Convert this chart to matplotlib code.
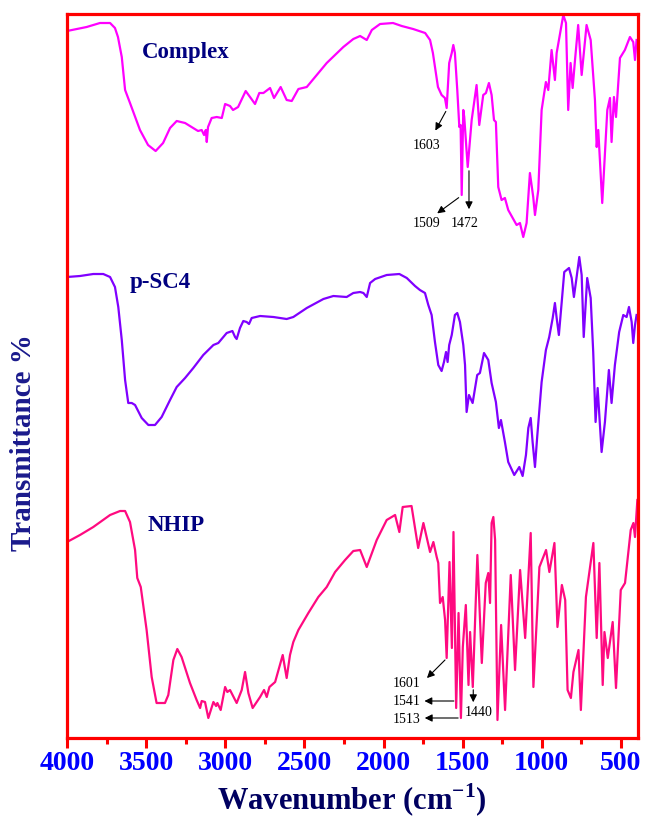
import matplotlib.pyplot as plt
from matplotlib.ticker import MultipleLocator

plt.rcParams['mathtext.fontset'] = 'custom'
plt.rcParams['mathtext.rm'] = 'Liberation Serif'
plt.rcParams['mathtext.bf'] = 'Liberation Serif:bold'

# FTIR spectra (wavenumber in cm-1, transmittance in arbitrary stacked units)
complex_wn = [4000, 3876, 3792, 3728, 3697, 3678, 3654, 3633, 3602, 3539, 3488, 3440, 3393, 3349, 3307,
              3254, 3172, 3149, 3134, 3123, 3117, 3109, 3086, 3054, 3022, 3001, 2970, 2951, 2919, 2871,
              2839, 2812, 2785, 2759, 2717, 2692, 2650, 2612, 2580, 2538, 2485, 2422, 2359, 2254, 2191,
              2148, 2106, 2074, 2022, 1940, 1885, 1813, 1737, 1706, 1688, 1656, 1633, 1612, 1601, 1585,
              1569, 1559, 1549, 1534, 1521, 1513, 1506, 1496, 1490, 1468, 1443, 1412, 1395, 1370, 1353,
              1334, 1317, 1302, 1290, 1275, 1254, 1233, 1212, 1159, 1138, 1117, 1096, 1075, 1054, 1043,
              1022, 1001, 974, 959, 938, 917, 906, 864, 847, 833, 818, 805, 790, 770, 748, 717, 691, 664,
              653, 643, 618, 586, 569, 559, 544, 531, 506, 475, 443, 422, 411, 401]
complex_t = [707, 711, 715, 715, 710, 701, 681, 648, 635, 608, 593, 587, 595, 610, 617,
             615, 607, 608, 603, 608, 596, 611, 620, 621, 620, 634, 632, 628, 631, 647,
             640, 634, 645, 645, 650, 640, 651, 638, 637, 649, 651, 663, 675, 691, 699,
             702, 698, 708, 714, 715, 712, 709, 705, 698, 685, 651, 643, 640, 630, 675,
             685, 693, 685, 648, 611, 613, 543, 628, 621, 571, 618, 653, 613, 643, 645,
             655, 643, 618, 616, 551, 538, 540, 528, 513, 515, 501, 515, 565, 541, 523,
             548, 628, 656, 648, 688, 658, 685, 723, 715, 628, 675, 650, 678, 713, 663, 713, 698, 638,
             591, 608, 535, 628, 640, 596, 641, 621, 680, 688, 701, 696, 678, 698]

psc4_wn = [4000, 3918, 3834, 3771, 3728, 3697, 3676, 3654, 3633, 3613, 3591, 3570, 3528, 3486, 3444,
           3402, 3349, 3307, 3254, 3202, 3139, 3075, 3044, 2991, 2955, 2938, 2928, 2907, 2886, 2865,
           2850, 2833, 2780, 2696, 2612, 2570, 2485, 2380, 2317, 2233, 2191, 2148, 2127, 2106, 2085,
           2053, 1980, 1900, 1853, 1801, 1770, 1738, 1717, 1696, 1675, 1654, 1633, 1618, 1605, 1595,
           1585, 1569, 1549, 1534, 1517, 1496, 1485, 1475, 1460, 1437, 1408, 1391, 1365, 1338, 1317,
           1290, 1271, 1258, 1233, 1212, 1174, 1142, 1121, 1100, 1085, 1070, 1058, 1043, 1029, 1001,
           974, 953, 931, 917, 906, 892, 874, 858, 828, 811, 797, 784, 763, 748, 735, 713, 691, 675,
           660, 647, 622, 601, 576, 559, 538, 511, 485, 464, 449, 432, 422, 411, 401]
psc4_t = [461, 462, 464, 464, 461, 451, 431, 398, 358, 335, 335, 333, 320, 313, 313,
          321, 338, 351, 360, 370, 383, 393, 395, 405, 407, 401, 399, 410, 417, 416,
          414, 420, 422, 421, 419, 421, 430, 439, 442, 441, 445, 446, 445, 441, 455,
          459, 463, 464, 460, 452, 448, 445, 433, 423, 396, 373, 367, 376, 386, 376,
          393, 403, 423, 425, 416, 393, 373, 326, 343, 335, 363, 365, 385, 378, 355,
          336, 310, 318, 296, 276, 263, 271, 262, 283, 310, 320, 296, 271, 301, 356,
          388, 401, 420, 435, 420, 403, 436, 466, 470, 460, 441, 456, 481, 463, 401, 460, 440, 386,
          316, 350, 286, 316, 368, 335, 373, 406, 423, 421, 431, 416, 395, 413, 423]

nhip_wn = [4000, 3918, 3834, 3728, 3665, 3633, 3602, 3570, 3556, 3534, 3497, 3465, 3434, 3381, 3360,
           3328, 3303, 3276, 3223, 3181, 3159, 3149, 3128, 3107, 3075, 3058, 3050, 3029, 3001, 2987,
           2970, 2928, 2896, 2875, 2854, 2827, 2780, 2755, 2738, 2721, 2685, 2637, 2612, 2591, 2570,
           2538, 2475, 2412, 2359, 2306, 2243, 2191, 2148, 2106, 2043, 1980, 1927, 1900, 1879, 1823,
           1781, 1748, 1706, 1685, 1664, 1654, 1643, 1626, 1611, 1601, 1583, 1568, 1558, 1541, 1526,
           1511, 1499, 1480, 1463, 1453, 1436, 1407, 1379, 1354, 1338, 1327, 1317, 1306, 1295, 1280,
           1257, 1232, 1196, 1169, 1137, 1105, 1070, 1053, 1015, 973, 952, 920, 901, 873, 852, 837,
           816, 800, 768, 753, 721, 674, 653, 636, 615, 604, 583, 552, 531, 501, 474, 438, 421, 411, 396]
nhip_t = [196, 203, 211, 223, 227, 227, 216, 188, 160, 151, 108, 61, 35, 35, 43,
          78, 89, 81, 55, 38, 30, 37, 36, 20, 36, 32, 35, 28, 51, 46,
          48, 35, 48, 66, 45, 30, 41, 48, 41, 51, 56, 83, 60, 83, 96,
          108, 125, 141, 151, 166, 178, 187, 188, 171, 198, 218, 223, 206, 231, 232,
          190, 215, 186, 196, 181, 175, 135, 141, 118, 80, 176, 90, 206, 30, 125,
          20, 91, 133, 53, 106, 51, 183, 75, 155, 165, 135, 215, 221, 198, 18,
          113, 28, 163, 68, 168, 100, 205, 51, 171, 188, 166, 195, 111, 153, 138, 48,
          40, 66, 88, 28, 141, 195, 100, 175, 53, 106, 80, 116, 50, 148, 155, 208, 215, 201, 238]

names = ['Complex', 'p-SC4', 'NHIP']
colors = ['#FF00FF', '#8000FF', '#FF0A80']
name_pos = [(3248, 686), (3412, 456), (3311, 213)]

# peak labels: text, arrow tail, arrow head, label position
peaks = ['1603', '1509', '1472', '1601', '1541', '1513', '1440']
peak_from = [(1598, 629), (1511, 542), (1460, 570), (1599, 80), (1538, 37), (1511, 20), (1433, 51)]
peak_to = [(1681, 605), (1675, 523), (1460, 526), (1738, 58), (1759, 37), (1757, 20), (1433, 33)]
peak_txt = [(1726, 593), (1726, 515), (1485, 515), (1852, 55), (1852, 37), (1852, 19), (1397, 26)]

fig = plt.figure(figsize=(6.45, 8.19), dpi=100)
ax = fig.add_axes([0.1039, 0.0989, 0.885, 0.884])

ax.plot(complex_wn, complex_t, color=colors[0], lw=1.6)
ax.plot(psc4_wn, psc4_t, color=colors[1], lw=1.6)
ax.plot(nhip_wn, nhip_t, color=colors[2], lw=1.6)

for name, (x, y) in zip(names, name_pos):
    ax.text(x, y, name, ha='center', va='center', fontsize=16.5, fontweight='bold',
            family='Liberation Serif', color='#000080')

for lab, p0, p1, pt in zip(peaks, peak_from, peak_to, peak_txt):
    ax.annotate('', xy=p1, xytext=p0,
                arrowprops=dict(arrowstyle='-|>', color='black', lw=0.8, mutation_scale=11))
    ax.text(pt[0], pt[1], lab, ha='center', va='center', fontsize=10,
            family='Liberation Serif', color='black')

ax.set_xlim(4000, 393)
ax.set_ylim(0, 724)
ax.set_yticks([])
ax.xaxis.set_major_locator(MultipleLocator(500))
ax.xaxis.set_minor_locator(MultipleLocator(250))
ax.tick_params(axis='x', which='major', length=7, width=2.2, color='red', pad=2,
               labelsize=20, labelcolor='#0000FF')
ax.tick_params(axis='x', which='minor', length=4.5, width=2.2, color='red')
for lab in ax.get_xticklabels():
    lab.set_family('Liberation Serif')
    lab.set_fontweight('bold')
for s in ax.spines.values():
    s.set_color('red')
    s.set_linewidth(2.3)

fig.text(352 / 645, 1 - 800 / 819, 'Wavenumber (cm$^{\\mathbf{-1}}$)', ha='center', va='center',
         fontsize=22, fontweight='bold', family='Liberation Serif', color='#000060')
fig.text(24 / 645, 1 - 443 / 819, 'Transmittance %', ha='center', va='center', rotation=90,
         fontsize=21, fontweight='bold', family='Liberation Serif', color='#1A1A8C')

fig.savefig('out.png', dpi=100)
